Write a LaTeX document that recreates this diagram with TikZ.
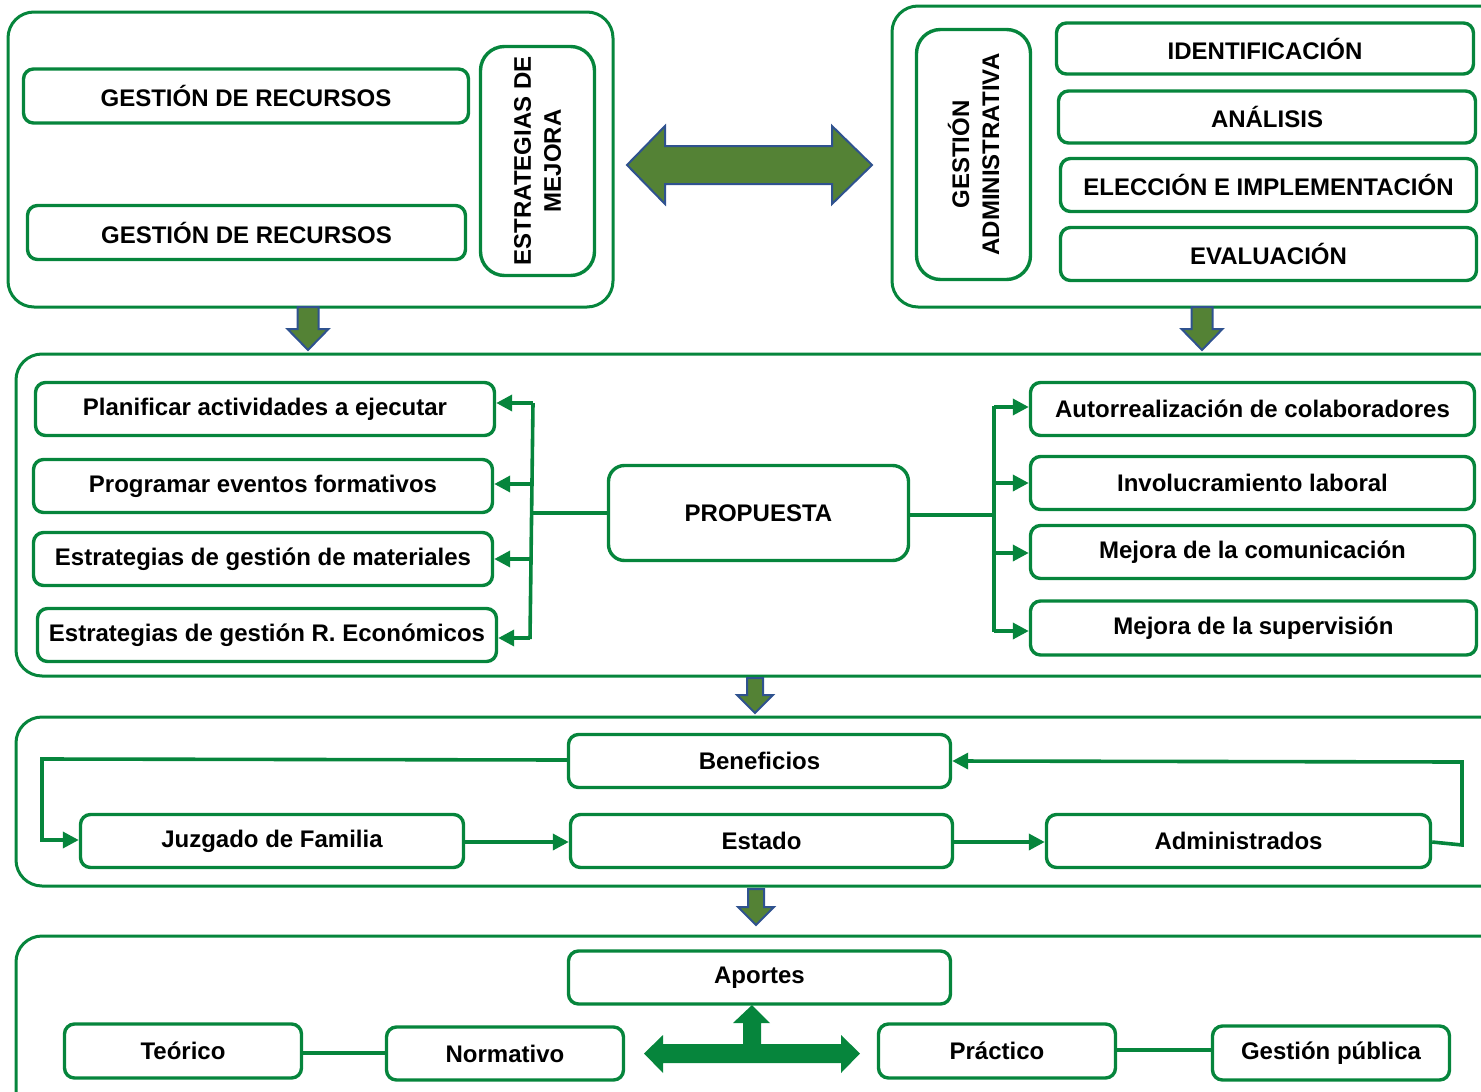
\documentclass[tikz,border=0pt]{standalone}
\usepackage{fontspec}
\setmainfont{Liberation Sans}
\usetikzlibrary{arrows.meta}
\definecolor{gline}{RGB}{6,133,60}
\definecolor{olivefill}{RGB}{84,130,53}
\definecolor{bblue}{RGB}{47,82,143}
\begin{document}
\begin{tikzpicture}[x=1pt,y=-1pt,
  txt/.style={font=\bfseries\fontsize{24}{30}\selectfont, text=black},
  box/.style={txt, draw=gline, line width=3.4pt, rounded corners=10pt, inner sep=0pt, align=center},
  rbox/.style={box, rounded corners=24pt, rotate=90},
  cont/.style={draw=gline, line width=3pt, rounded corners=26pt},
  conn/.style={draw=gline, line width=3.6pt},
  arr/.style={conn, -{Triangle[length=16pt,width=16pt]}},
  bigarrow/.style={fill=olivefill, draw=bblue, line width=2pt, line join=miter},
]
\useasboundingbox (0,0) rectangle (1481,1092);
\clip (0,0) rectangle (1481,1092);

% containers
\draw[cont] (8,12) rectangle (613,307);
\draw[cont] (892,6) rectangle (1520,307);
\draw[cont] (16,354) rectangle (1520,676);
\draw[cont] (16,717) rectangle (1520,886);
\draw[cont] (16,936) rectangle (1520,1130);

% top left
\node[box, minimum width=445pt, minimum height=54pt] (gr1) at (246,96) {GESTIÓN DE RECURSOS};
\node[box, minimum width=438pt, minimum height=54pt] (gr2) at (246.5,232.5) {GESTIÓN DE RECURSOS};
\node[rbox, minimum width=229pt, minimum height=114pt] (estr) at (537.5,161) {ESTRATEGIAS DE\\MEJORA};

% double arrow
\draw[bigarrow] (627,165) -- (665,126) -- (665,146) -- (832,146) -- (832,126) -- (872,165)
  -- (832,204) -- (832,184) -- (665,184) -- (665,204) -- cycle;

% top right
\node[rbox, minimum width=250pt, minimum height=114pt] (gadm) at (973.5,154.5) {GESTIÓN\\ADMINISTRATIVA};
\node[box, minimum width=417pt, minimum height=51pt] (ident) at (1265,48.5) {IDENTIFICACIÓN};
\node[box, minimum width=417pt, minimum height=52pt] (anal) at (1267,117) {ANÁLISIS};
\node[box, minimum width=416pt, minimum height=53pt] (elec) at (1268.5,185) {ELECCIÓN E IMPLEMENTACIÓN};
\node[box, minimum width=416pt, minimum height=53pt] (eval) at (1268.5,254) {EVALUACIÓN};

% down arrows (top)
\draw[bigarrow, shift={(308,307)}] (-10.5,0) -- (10.5,0) -- (10.5,22) -- (20.5,22) -- (0,43) -- (-20.5,22) -- (-10.5,22) -- cycle;
\draw[bigarrow, shift={(1202,307)}] (-10.5,0) -- (10.5,0) -- (10.5,22) -- (20.5,22) -- (0,43) -- (-20.5,22) -- (-10.5,22) -- cycle;

% middle
\node[box, minimum width=459pt, minimum height=53pt] (plan) at (265,409) {Planificar actividades a ejecutar};
\node[box, minimum width=459pt, minimum height=53pt] (prog) at (263,486) {Programar eventos formativos};
\node[box, minimum width=459pt, minimum height=53pt] (mat) at (263,559) {Estrategias de gestión de materiales};
\node[box, minimum width=459pt, minimum height=53pt] (eco) at (267,635) {Estrategias de gestión R. Económicos};
\node[box, rounded corners=16pt, minimum width=300pt, minimum height=95pt] (prop) at (758.5,513) {PROPUESTA};
\node[box, minimum width=444pt, minimum height=53pt] (autor) at (1252.5,409) {Autorrealización de colaboradores};
\node[box, minimum width=444pt, minimum height=53pt] (invol) at (1252.5,483) {Involucramiento laboral};
\node[box, minimum width=444pt, minimum height=53pt] (com) at (1252.5,552) {Mejora de la comunicación};
\node[box, minimum width=446pt, minimum height=54pt] (sup) at (1253.5,628) {Mejora de la supervisión};

% left bracket
\draw[conn] (prop.west) -- (532,513);
\draw[conn] (533,403) -- (530,639);
\draw[arr] (533,403) -- (plan.east |- 0,403);
\draw[arr] (532,484) -- (prog.east |- 0,484);
\draw[arr] (531,559) -- (mat.east |- 0,559);
\draw[arr] (530,638) -- (eco.east |- 0,638);

% right bracket
\draw[conn] (prop.east |- 0,515) -- (994,515);
\draw[conn] (994,406) -- (994,632);
\draw[arr] (994,407) -- (autor.west |- 0,407);
\draw[arr] (994,483) -- (invol.west |- 0,483);
\draw[arr] (994,553) -- (com.west |- 0,553);
\draw[arr] (994,631) -- (sup.west |- 0,631);

% down arrows (middle)
\draw[bigarrow, shift={(755,678)}] (-8,0) -- (8,0) -- (8,17) -- (18,17) -- (0,35) -- (-18,17) -- (-8,17) -- cycle;
\draw[bigarrow, shift={(756,889)}] (-8,0) -- (8,0) -- (8,18) -- (18,18) -- (0,36) -- (-18,18) -- (-8,18) -- cycle;

% benefits
\node[box, minimum width=382pt, minimum height=53pt] (ben) at (759.5,761) {Beneficios};
\node[box, minimum width=383pt, minimum height=53pt] (juz) at (272,841) {Juzgado de Familia};
\node[box, minimum width=382pt, minimum height=53pt] (est) at (761.5,841) {Estado};
\node[box, minimum width=384pt, minimum height=53pt] (adm) at (1238.5,841) {Administrados};
\draw[arr] (ben.west |- 0,760) -- (42,759) -- (42,840) -- (juz.west |- 0,840);
\draw[arr] (juz.east |- 0,842) -- (est.west |- 0,842);
\draw[arr] (est.east |- 0,842) -- (adm.west |- 0,842);
\draw[arr] (adm.east |- 0,842) -- (1462,845) -- (1462,762) -- (ben.east |- 0,761);

% contributions
\node[box, minimum width=382pt, minimum height=53pt] (apor) at (759.5,977.5) {Aportes};
\node[box, minimum width=237pt, minimum height=54pt] (teo) at (183,1051) {Teórico};
\node[box, minimum width=237pt, minimum height=53pt] (norm) at (505,1053.5) {Normativo};
\node[box, minimum width=237pt, minimum height=54pt] (prac) at (997,1051) {Práctico};
\node[box, minimum width=237pt, minimum height=54pt] (gpub) at (1331,1053) {Gestión pública};
\draw[conn] (teo.east |- 0,1053) -- (norm.west |- 0,1053);
\draw[conn] (prac.east |- 0,1050) -- (gpub.west |- 0,1050);

% three-way arrow
\fill[gline] (644,1053.5) -- (663,1035) -- (663,1044) -- (743,1044) -- (743,1023) -- (733,1023)
  -- (752,1005) -- (770,1023) -- (761,1023) -- (761,1044) -- (841,1044) -- (841,1035)
  -- (860,1053.5) -- (841,1073) -- (841,1063) -- (663,1063) -- (663,1073) -- cycle;
\end{tikzpicture}
\end{document}
